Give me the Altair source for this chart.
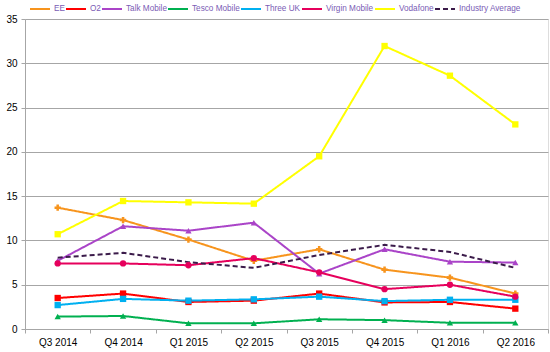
import altair as alt
import pandas as pd

quarters = ["Q3 2014", "Q4 2014", "Q1 2015", "Q2 2015", "Q3 2015", "Q4 2015", "Q1 2016", "Q2 2016"]
series = ["EE", "O2", "Talk Mobile", "Tesco Mobile", "Three UK", "Virgin Mobile", "Vodafone", "Industry Average"]

ee = [13.7, 12.3, 10.1, 7.7, 9.0, 6.7, 5.8, 4.0]
o2 = [3.5, 4.0, 3.05, 3.2, 4.0, 3.0, 3.05, 2.3]
talk = [7.7, 11.6, 11.1, 12.0, 6.25, 9.0, 7.6, 7.5]
tesco = [1.4, 1.47, 0.64, 0.64, 1.1, 1.0, 0.7, 0.7]
three = [2.7, 3.4, 3.2, 3.35, 3.65, 3.15, 3.3, 3.3]
virgin = [7.4, 7.4, 7.2, 8.0, 6.4, 4.5, 5.0, 3.65]
vodafone = [10.7, 14.45, 14.3, 14.15, 19.5, 31.95, 28.6, 23.1]
industry = [8.05, 8.6, 7.55, 6.9, 8.35, 9.5, 8.7, 6.9]

colors = ["#F7941D", "#FF0000", "#AA44C8", "#00B050", "#00B0F0", "#E6005C", "#FFFF00", "#3B1B4A"]
shapes = ["cross", "square", "triangle-up", "triangle-up", "square", "circle", "square", "circle"]
dashes = [[1, 0]] * 7 + [[5, 3]]

values = [ee, o2, talk, tesco, three, virgin, vodafone, industry]
rows = []
for s, vals in zip(series, values):
    for q, v in zip(quarters, vals):
        rows.append({"Quarter": q, "Series": s, "Marker": s, "Value": v})
df = pd.DataFrame(rows)

text_color = "#7A5CB5"
font = "Liberation Sans"

x = alt.X("Quarter:N", sort=quarters, title=None,
          scale=alt.Scale(type="band", paddingInner=0, paddingOuter=0),
          axis=alt.Axis(labelAngle=0, tickBand="extent", domainColor="#A6A6A6",
                        tickColor="#A6A6A6", tickSize=4, labelPadding=4, grid=False))
y = alt.Y("Value:Q", title=None,
          scale=alt.Scale(domain=[0, 35], nice=False),
          axis=alt.Axis(values=[0, 5, 10, 15, 20, 25, 30, 35], domainColor="#A6A6A6",
                        tickColor="#A6A6A6", tickSize=4, gridColor="#A6A6A6", labelPadding=4))

legend = alt.Legend(orient="none", direction="horizontal", legendX=4, legendY=-21,
                    title=None, symbolType="stroke", symbolSize=400, gridAlign="none",
                    symbolStrokeWidth=2, columnPadding=-3,
                    symbolDash={"expr": "datum.value == 'Industry Average' ? [5, 3] : [1, 0]"},
                    labelColor=text_color, labelFont=font, labelFontSize=8.2,
                    labelOffset=3)

lines = alt.Chart(df).mark_line(strokeWidth=2).encode(
    x=x, y=y,
    color=alt.Color("Series:N", scale=alt.Scale(domain=series, range=colors), sort=series, legend=legend),
    strokeDash=alt.StrokeDash("Series:N", scale=alt.Scale(domain=series, range=dashes), sort=series, legend=None),
    detail="Series:N",
)

points = alt.Chart(df).transform_filter(
    alt.datum.Series != "Industry Average"
).mark_point(filled=True, size=40, opacity=1).encode(
    x=x, y=y,
    color=alt.Color("Marker:N", scale=alt.Scale(domain=series, range=colors), legend=None),
    shape=alt.Shape("Marker:N", scale=alt.Scale(domain=series, range=shapes), legend=None),
)

chart = alt.layer(lines, points).resolve_scale(color="independent").properties(
    width=523, height=310,
    autosize=alt.AutoSizeParams(type="none"),
    padding={"left": 25, "top": 19, "right": 2, "bottom": 23},
).configure_axis(
    labelColor=text_color, labelFont=font, labelFontSize=11,
).configure_view(stroke=None).configure(background="white")

chart.save("out.html", embed_options={"renderer": "svg", "actions": False})
